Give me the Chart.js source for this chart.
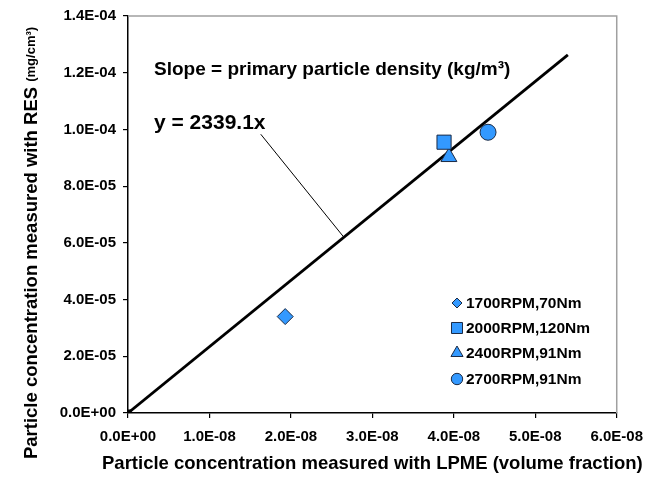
<!DOCTYPE html>
<html>
<head>
<meta charset="utf-8">
<script src="https://cdn.jsdelivr.net/npm/chart.js@4/dist/chart.umd.min.js"></script>
<style>
  html, body { margin: 0; padding: 0; background: #fff; }
  canvas { display: block; }
</style>
</head>
<body>
<canvas id="chart" width="653" height="479"></canvas>
<script>
const FONT = "'Liberation Sans', Arial, sans-serif";

// measured points (x = LPME volume fraction, y = RES mg/cm3)
const seriesNames = ["1700RPM,70Nm", "2000RPM,120Nm", "2400RPM,91Nm", "2700RPM,91Nm"];
const seriesStyles = ["rectRot", "rect", "triangle", "circle"];
const seriesX = [1.93e-8, 3.88e-8, 3.94e-8, 4.42e-8];
const seriesY = [3.4e-5, 9.55e-5, 9.03e-5, 9.9e-5];

// linear fit y = 2339.1x
const slope = 2339.1;
const fitX = [0, 5.4e-8];
// leader line from label to the fit line
const leaderX = [1.63e-8, 2.65e-8];
const leaderY = [9.83e-5, 2.65e-8 * slope];

const xTicks = { min: 0, max: 6e-8, step: 1e-8 };
const yTicks = { min: 0, max: 1.4e-4, step: 2e-5 };

function fmt(v) {
  if (Math.abs(v) < 1e-20) return "0.0E+00";
  const parts = Number(v).toExponential(1).split("e");
  const e = parseInt(parts[1], 10);
  return parts[0] + "E" + (e < 0 ? "-" : "+") + String(Math.abs(e)).padStart(2, "0");
}

const blue = "#3399ff";
const edge = "#1c2b45";
const radii = [8, 10, 9.2, 8];

const datasets = seriesNames.map((name, i) => ({
  label: name,
  data: [{ x: seriesX[i], y: seriesY[i] }],
  pointStyle: seriesStyles[i],
  pointRadius: radii[i],
  pointHoverRadius: radii[i],
  backgroundColor: blue,
  borderColor: edge,
  borderWidth: 1,
  showLine: false
}));

datasets.push({
  label: "fit",
  data: fitX.map(x => ({ x: x, y: slope * x })),
  showLine: true,
  borderColor: "#000",
  borderWidth: 2.8,
  pointStyle: "rect",
  pointRadius: [5, 0],
  backgroundColor: "#000",
  pointBorderWidth: 0
});

datasets.push({
  label: "leader",
  data: leaderX.map((x, i) => ({ x: x, y: leaderY[i] })),
  showLine: true,
  borderColor: "#000",
  borderWidth: 1,
  pointRadius: 0
});

const textPlugin = {
  id: "texts",
  afterDraw(chart) {
    const ctx = chart.ctx;
    const a = chart.chartArea;
    ctx.save();
    // gray frame on top and right
    ctx.strokeStyle = "#a0a0a0";
    ctx.lineWidth = 1.5;
    ctx.beginPath();
    ctx.moveTo(a.left, a.top);
    ctx.lineTo(a.right, a.top);
    ctx.lineTo(a.right, a.bottom);
    ctx.stroke();

    ctx.fillStyle = "#000";
    ctx.textBaseline = "middle";
    ctx.textAlign = "left";
    ctx.font = "bold 19px " + FONT;
    ctx.fillText("Slope = primary particle density (kg/m\u00B3)", 154, 70);
    ctx.font = "bold 21px " + FONT;
    ctx.fillText("y = 2339.1x", 154, 123);

    // legend
    const ly = [303, 328, 353, 379];
    const lr = [5, 7.8, 7, 5.7];
    ctx.font = "bold 15.5px " + FONT;
    seriesNames.forEach((n, i) => {
      ctx.fillStyle = blue;
      ctx.strokeStyle = edge;
      ctx.lineWidth = 1;
      Chart.helpers.drawPoint(ctx, { pointStyle: seriesStyles[i], radius: lr[i], borderWidth: 1 }, 457, ly[i]);
      ctx.fillStyle = "#000";
      ctx.fillText(n, 466, ly[i] + 1);
    });

    // x axis title
    ctx.textAlign = "center";
    ctx.font = "bold 18.5px " + FONT;
    ctx.fillText("Particle concentration measured with LPME (volume fraction)", (a.left + a.right) / 2, 464);

    // y axis title (two sizes)
    const main = "Particle concentration measured with RES ";
    const unit = "(mg/cm\u00B3)";
    ctx.font = "bold 18.5px " + FONT;
    const w1 = ctx.measureText(main).width;
    ctx.font = "bold 13px " + FONT;
    const w2 = ctx.measureText(unit).width;
    ctx.translate(32, 243);
    ctx.rotate(-Math.PI / 2);
    ctx.textAlign = "left";
    ctx.font = "bold 18.5px " + FONT;
    ctx.fillText(main, -(w1 + w2) / 2, 0);
    ctx.font = "bold 13px " + FONT;
    ctx.fillText(unit, -(w1 + w2) / 2 + w1, -1);
    ctx.restore();
  }
};

new Chart(document.getElementById("chart").getContext("2d"), {
  type: "scatter",
  data: { datasets: datasets },
  options: {
    responsive: false,
    animation: false,
    events: [],
    layout: { padding: { top: 13, right: 36, left: 0, bottom: 0 } },
    plugins: { legend: { display: false }, tooltip: { enabled: false } },
    scales: {
      x: {
        type: "linear",
        min: xTicks.min,
        max: xTicks.max,
        afterFit: s => { s.height = 66; },
        ticks: {
          stepSize: xTicks.step,
          callback: v => fmt(v),
          color: "#000",
          font: { family: FONT, size: 15, weight: "bold" },
          padding: 10,
          maxRotation: 0
        },
        grid: { drawOnChartArea: false, drawTicks: true, tickLength: 5, color: "#000", lineWidth: 1.2 },
        border: { display: true, color: "#000", width: 1.5 }
      },
      y: {
        type: "linear",
        min: yTicks.min,
        max: yTicks.max,
        afterFit: s => { s.width = 128; },
        ticks: {
          stepSize: yTicks.step,
          callback: v => fmt(v),
          color: "#000",
          font: { family: FONT, size: 15, weight: "bold" },
          padding: 7
        },
        grid: { drawOnChartArea: false, drawTicks: true, tickLength: 5, color: "#000", lineWidth: 1.2 },
        border: { display: true, color: "#000", width: 1.5 }
      }
    }
  },
  plugins: [textPlugin]
});
</script>
</body>
</html>
